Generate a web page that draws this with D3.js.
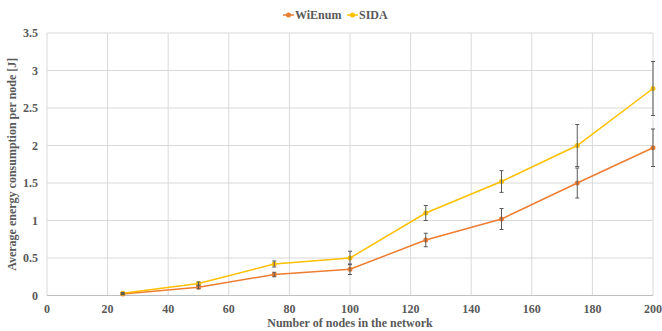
<!DOCTYPE html>
<html>
<head>
<meta charset="utf-8">
<script src="https://cdn.jsdelivr.net/npm/d3@7"></script>
<style>
  body { margin: 0; background: #fff; }
  text { font-family: "Liberation Serif", "Times New Roman", serif; font-weight: bold; fill: #595959; }
</style>
</head>
<body>
<svg width="662" height="331"></svg>
<script>
// data
var nodes = [25, 50, 75, 100, 125, 150, 175, 200];
var wienum = [0.02, 0.11, 0.28, 0.35, 0.74, 1.02, 1.50, 1.97];
var wienumErr = [0.01, 0.02, 0.03, 0.07, 0.09, 0.14, 0.20, 0.25];
var sida = [0.03, 0.16, 0.42, 0.50, 1.10, 1.52, 2.00, 2.76];
var sidaErr = [0.01, 0.02, 0.04, 0.09, 0.10, 0.145, 0.28, 0.36];
var xTicks = [0, 20, 40, 60, 80, 100, 120, 140, 160, 180, 200];
var yTicks = [0, 0.5, 1, 1.5, 2, 2.5, 3, 3.5];

var series = [
  { name: "WiEnum", color: "#ED7D31", values: wienum, err: wienumErr },
  { name: "SIDA", color: "#FFC000", values: sida, err: sidaErr }
];

var svg = d3.select("svg"),
  margin = { top: 33, right: 8, bottom: 36, left: 47 };

var x = d3.scaleLinear().domain([0, 200]).range([0, 606]);
var y = d3.scaleLinear().domain([0, 3.5]).range([262.5, 0]);

var g = svg.append("g").attr("transform", "translate(" + margin.left + "," + margin.top + ")");

// grid
g.append("g").selectAll("line")
  .data(yTicks).enter().append("line")
  .attr("x1", 0).attr("x2", x(200))
  .attr("y1", function(d) { return y(d); })
  .attr("y2", function(d) { return y(d); })
  .style("stroke", "#d9d9d9").style("stroke-width", 1);

g.append("g").selectAll("line")
  .data(xTicks).enter().append("line")
  .attr("y1", 0).attr("y2", y(0))
  .attr("x1", function(d) { return x(d); })
  .attr("x2", function(d) { return x(d); })
  .style("stroke", "#d9d9d9").style("stroke-width", 1);

// bottom axis line
g.append("line")
  .attr("x1", 0).attr("x2", x(200))
  .attr("y1", y(0)).attr("y2", y(0))
  .style("stroke", "#bfbfbf").style("stroke-width", 1);

// tick labels
g.append("g").selectAll("text")
  .data(yTicks).enter().append("text")
  .attr("x", -9).attr("y", function(d) { return y(d); })
  .attr("dy", "0.35em")
  .attr("text-anchor", "end")
  .attr("font-size", 12)
  .text(function(d) { return d; });

g.append("g").selectAll("text")
  .data(xTicks).enter().append("text")
  .attr("x", function(d) { return x(d); })
  .attr("y", y(0) + 17)
  .attr("text-anchor", "middle")
  .attr("font-size", 12)
  .text(function(d) { return d; });

// axis titles
svg.append("text")
  .attr("x", margin.left + x(100))
  .attr("y", 327)
  .attr("text-anchor", "middle")
  .attr("font-size", 12)
  .text("Number of nodes in the network");

svg.append("text")
  .attr("transform", "translate(16," + (margin.top + y(1.75)) + ") rotate(-90)")
  .attr("text-anchor", "middle")
  .attr("font-size", 12)
  .text("Average energy consumption per node [J]");

var line = d3.line()
  .x(function(d) { return x(d[0]); })
  .y(function(d) { return y(d[1]); });

series.forEach(function(s) {
  var pts = nodes.map(function(n, i) { return [n, s.values[i], s.err[i]]; });

  g.append("path")
    .datum(pts)
    .attr("d", line)
    .style("fill", "none")
    .style("stroke", s.color)
    .style("stroke-width", 1.5);

  g.append("g").selectAll("circle")
    .data(pts).enter().append("circle")
    .attr("cx", function(d) { return x(d[0]); })
    .attr("cy", function(d) { return y(d[1]); })
    .attr("r", 2.5)
    .style("fill", s.color);
});

// error bars on top
series.forEach(function(s) {
  var pts = nodes.map(function(n, i) { return [n, s.values[i], s.err[i]]; });
  var eb = g.append("g").selectAll("g")
    .data(pts).enter().append("g")
    .style("stroke", "#595959").style("stroke-width", 1);
  eb.append("line")
    .attr("x1", function(d) { return x(d[0]); })
    .attr("x2", function(d) { return x(d[0]); })
    .attr("y1", function(d) { return y(d[1] + d[2]); })
    .attr("y2", function(d) { return y(d[1] - d[2]); });
  eb.append("line")
    .attr("x1", function(d) { return x(d[0]) - 2; })
    .attr("x2", function(d) { return x(d[0]) + 2; })
    .attr("y1", function(d) { return y(d[1] + d[2]); })
    .attr("y2", function(d) { return y(d[1] + d[2]); });
  eb.append("line")
    .attr("x1", function(d) { return x(d[0]) - 2; })
    .attr("x2", function(d) { return x(d[0]) + 2; })
    .attr("y1", function(d) { return y(d[1] - d[2]); })
    .attr("y2", function(d) { return y(d[1] - d[2]); });
});

// legend
var legendPos = [283, 347];
var lg = svg.append("g").selectAll("g")
  .data(series).enter().append("g")
  .attr("transform", function(d, i) { return "translate(" + legendPos[i] + ",15)"; });
lg.append("line")
  .attr("x1", 0).attr("x2", 11)
  .style("stroke", function(d) { return d.color; })
  .style("stroke-width", 1.5);
lg.append("circle")
  .attr("cx", 5.5).attr("r", 2.5)
  .style("fill", function(d) { return d.color; });
lg.append("text")
  .attr("x", 12).attr("dy", "0.35em")
  .attr("font-size", 12)
  .text(function(d) { return d.name; });
</script>
</body>
</html>
